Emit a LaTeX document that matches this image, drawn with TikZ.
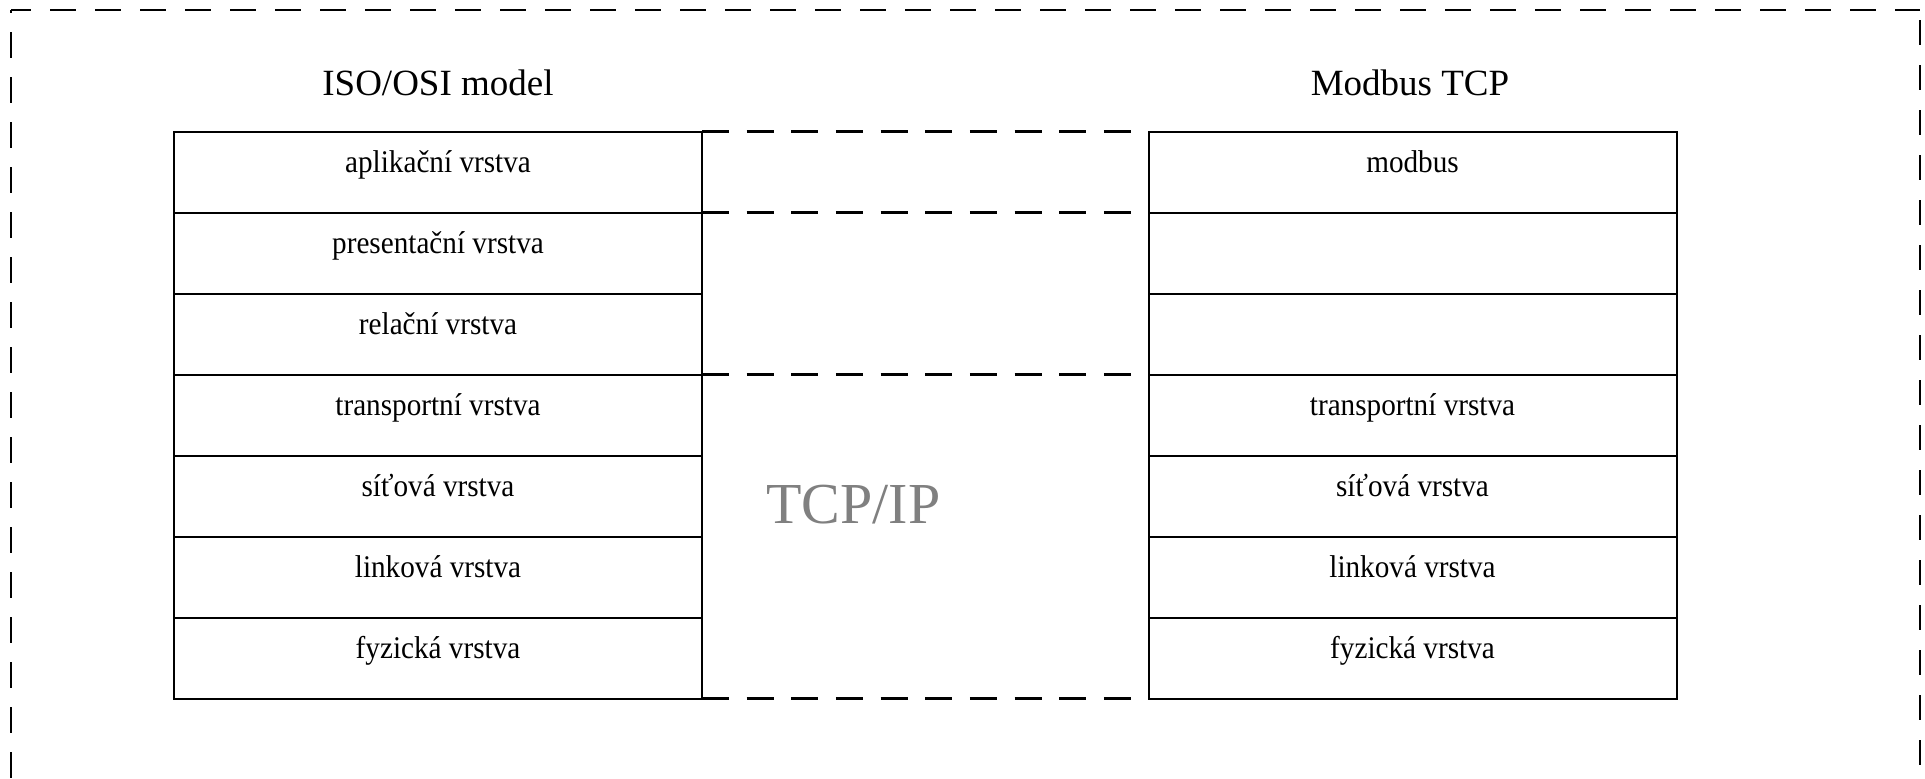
\documentclass[tikz,border=0pt]{standalone}
\usepackage{fontspec}
\usepackage{graphicx}
\setmainfont{Liberation Serif}
\newcommand{\tallbox}[1]{\scalebox{1}[1.08]{#1}}
\begin{document}
\begin{tikzpicture}[x=0.5pt,y=-0.5pt,
  layer/.style={draw, line width=1pt, minimum width=264pt, minimum height=40.5pt,
    inner sep=0pt, outer sep=0pt, text height=6pt, text depth=6pt,
    font=\fontsize{14.6}{17}\selectfont},
  ttl/.style={font=\fontsize{18.5}{22}\selectfont, anchor=base, inner sep=0pt},
  bigtxt/.style={font=\fontsize{29}{34}\selectfont, text={rgb,255:red,128;green,128;blue,128}, anchor=base west, inner sep=0pt},
  midline/.style={line width=1.5pt, dash pattern=on 13.5pt off 8.83pt},
  frame/.style={line width=1pt}]
\useasboundingbox (0,0) rectangle (1925,778);

% outer dashed frame (cut off at the bottom)
\coordinate (tl) at (11,10);
\coordinate (tr) at (1920,10);
\coordinate (bl) at (11,778);
\coordinate (br) at (1920,778);
\draw[frame, dash pattern=on 13pt off 9.5pt, dash phase=3pt] (tl) -- (tr);
\draw[frame, dash pattern=on 13pt off 9.5pt, dash phase=11.5pt] (tl) -- (bl);
\draw[frame, dash pattern=on 12.5pt off 10pt, dash phase=17.5pt] (tr) -- (br);

% titles
\node[ttl] (tiso) at (438,95) {ISO/OSI model};
\node[ttl] (tmod) at (1410,95) {Modbus TCP};

% left stack
\node[layer] (l1) at (438,172) {\tallbox{aplikační vrstva}};
\node[layer] (l2) at (438,253) {\tallbox{presentační vrstva}};
\node[layer] (l3) at (438,334) {\tallbox{relační vrstva}};
\node[layer] (l4) at (438,415) {\tallbox{transportní vrstva}};
\node[layer] (l5) at (438,496) {\tallbox{síťová vrstva}};
\node[layer] (l6) at (438,577) {\tallbox{linková vrstva}};
\node[layer] (l7) at (438,658) {\tallbox{fyzická vrstva}};

% right stack
\node[layer] (r1) at (1412.5,172) {\tallbox{modbus}};
\node[layer] (r2) at (1412.5,253) {};
\node[layer] (r3) at (1412.5,334) {};
\node[layer] (r4) at (1412.5,415) {\tallbox{transportní vrstva}};
\node[layer] (r5) at (1412.5,496) {\tallbox{síťová vrstva}};
\node[layer] (r6) at (1412.5,577) {\tallbox{linková vrstva}};
\node[layer] (r7) at (1412.5,658) {\tallbox{fyzická vrstva}};

% dashed links between the stacks
\draw[midline] (l1.north east) -- ([xshift=-8.5pt]r1.north west);
\draw[midline] (l1.south east) -- ([xshift=-8.5pt]r1.south west);
\draw[midline] (l3.south east) -- ([xshift=-8.5pt]r3.south west);
\draw[midline] (l7.south east) -- ([xshift=-8.5pt]r7.south west);

\node[bigtxt] (tcpip) at (766,523) {TCP/IP};
\end{tikzpicture}
\end{document}
